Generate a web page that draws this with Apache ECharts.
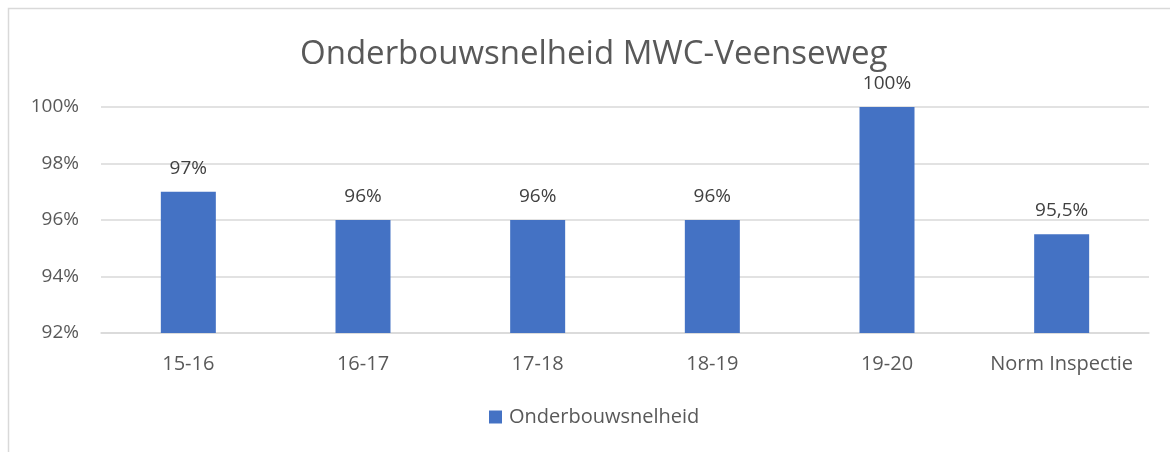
<!DOCTYPE html>
<html lang="nl">
<head>
    <meta charset="UTF-8">
    <title>Onderbouwsnelheid MWC-Veenseweg</title>
    <script src="https://cdn.jsdelivr.net/npm/echarts@6/dist/echarts.min.js"></script>
    <style>
        html, body { margin: 0; padding: 0; background: #fff; }
    </style>
</head>
<body>
<div id="chart" style="width:1170px;height:452px;"></div>

<script>
    // data
    var categories = ['15-16', '16-17', '17-18', '18-19', '19-20', 'Norm Inspectie'];
    var snelheid = [97, 96, 96, 96, 100, 95.5];
    var seriesName = 'Onderbouwsnelheid';

    var fontFam = '"Open Sans", "Noto Sans", sans-serif';
    var grijs = '#595959';

    function pct(v) {
        return String(v).replace('.', ',') + '%';
    }

    var myChart = echarts.init(document.getElementById('chart'));

    var option = {
        backgroundColor: '#fff',
        animation: false,
        // chart border (Excel look)
        graphic: [{
            type: 'rect',
            shape: { x: 8.5, y: 8.5, width: 1200, height: 500 },
            style: { fill: 'none', stroke: '#d9d9d9', lineWidth: 1.5 },
            silent: true
        }],
        title: {
            text: 'Onderbouwsnelheid MWC-Veenseweg',
            left: 295,
            top: 33,
            textStyle: {
                color: grijs,
                fontFamily: fontFam,
                fontWeight: 'normal',
                fontSize: 33
            }
        },
        legend: {
            bottom: 20,
            left: 484,
            icon: 'rect',
            itemWidth: 13,
            itemHeight: 13,
            itemGap: 10,
            textStyle: { color: grijs, fontFamily: fontFam, fontSize: 20, padding: [0, 0, 0, 2] },
            data: [seriesName]
        },
        grid: {
            left: 101,
            right: 21,
            top: 107,
            bottom: 119
        },
        xAxis: {
            type: 'category',
            data: categories,
            axisTick: { show: false },
            axisLine: { lineStyle: { color: '#d9d9d9', width: 1.5 } },
            axisLabel: {
                interval: 0,
                color: grijs,
                fontFamily: fontFam,
                fontSize: 20,
                margin: 21
            }
        },
        yAxis: {
            type: 'value',
            min: 92,
            max: 100,
            interval: 2,
            axisLine: { show: false },
            axisTick: { show: false },
            splitLine: { lineStyle: { color: '#d9d9d9', width: 1.5 } },
            axisLabel: {
                color: grijs,
                fontFamily: fontFam,
                fontSize: 19,
                margin: 22,
                formatter: function (v) { return v + '%'; }
            }
        },
        series: [{
            name: seriesName,
            type: 'bar',
            data: snelheid,
            barWidth: 55,
            itemStyle: { color: '#4472c4' },
            label: {
                show: true,
                position: 'top',
                distance: 14,
                color: '#404040',
                fontFamily: fontFam,
                fontSize: 19,
                formatter: function (p) { return pct(p.value); }
            }
        }]
    };

    myChart.setOption(option);
</script>
</body>
</html>
